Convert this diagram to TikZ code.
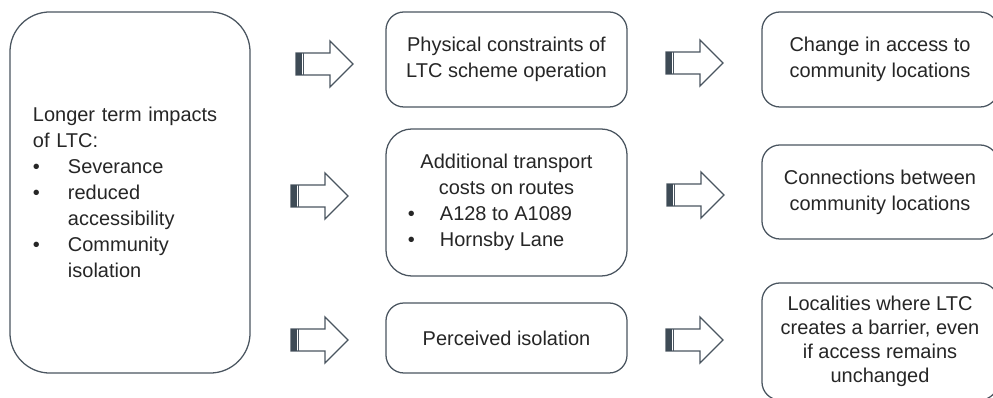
\documentclass[tikz,border=0pt]{standalone}
\usepackage{fontspec}
\setmainfont{Liberation Sans}
\usetikzlibrary{positioning}

\definecolor{boxline}{HTML}{4A5560}
\definecolor{barfill}{HTML}{3E4B56}
\definecolor{txt}{HTML}{262626}

\tikzset{
    impactbox/.style={draw=boxline, line width=0.9pt, rectangle, rounded corners=18*0.025cm,
        align=center, inner sep=0pt, text=txt,
        font=\fontsize{14.2}{18.5}\selectfont},
    arrline/.style={draw=boxline, line width=0.9pt, fill=white, line join=miter},
    fatarrow/.pic={
        \path[arrline] (0,-11) -- (34,-11) -- (34,-23) -- (57,0) -- (34,23) -- (34,11) -- (0,11) -- cycle;
        \fill[barfill] (0,-11) rectangle (5.5,11);
        \draw[boxline, line width=0.9pt] (7.5,-11) -- (7.5,11);
    }
}

\newcommand{\bul}[1]{\makebox[#1][l]{\textbullet}}

\begin{document}
\begin{tikzpicture}[x=0.025cm, y=-0.025cm]

    \useasboundingbox[fill=white] (0,0) rectangle (993,398);

    % linke Box
    \node[impactbox, rounded corners=40*0.025cm, align=left, text width=4.85cm,
          minimum width=6cm, minimum height=9.025cm] (impacts) at (130,192.5)
        {Longer term impacts\\of LTC:\\
         \bul{0.875cm}Severance\\
         \bul{0.875cm}reduced\\
         \hspace*{0.875cm}accessibility\\
         \bul{0.875cm}Community\\
         \hspace*{0.875cm}isolation};

    % mittlere Spalte
    \node[impactbox, minimum width=6.025cm, minimum height=2.375cm] (physical) at (506.5,59.5)
        {Physical constraints of\\LTC scheme operation};

    \node[impactbox, rounded corners=26*0.025cm, minimum width=6.025cm, minimum height=3.675cm] (costs) at (506.5,202.5)
        {Additional transport\\costs on routes\\
         \makebox[4.925cm][l]{\bul{0.8cm}A128 to A1089}\\
         \makebox[4.925cm][l]{\bul{0.8cm}Hornsby Lane}};

    \node[impactbox, minimum width=6.025cm, minimum height=1.75cm] (perceived) at (506.5,338)
        {Perceived isolation};

    % rechte Spalte
    \node[impactbox, minimum width=5.9cm, minimum height=2.375cm] (access) at (880,59.5)
        {Change in access to\\community locations};

    \node[impactbox, minimum width=5.9cm, minimum height=2.35cm] (connections) at (880,192)
        {Connections between\\community locations};

    \node[impactbox, font=\fontsize{14.2}{17}\selectfont, minimum width=5.9cm, minimum height=2.925cm]
        (barrier) at (880,341.5)
        {Localities where LTC\\creates a barrier, even\\if access remains\\unchanged};

    % Blockpfeile
    \pic at (296,64) {fatarrow};
    \pic at (291,196) {fatarrow};
    \pic at (291,340) {fatarrow};
    \pic at (666,63) {fatarrow};
    \pic at (667,195) {fatarrow};
    \pic at (666,340) {fatarrow};

\end{tikzpicture}
\end{document}
